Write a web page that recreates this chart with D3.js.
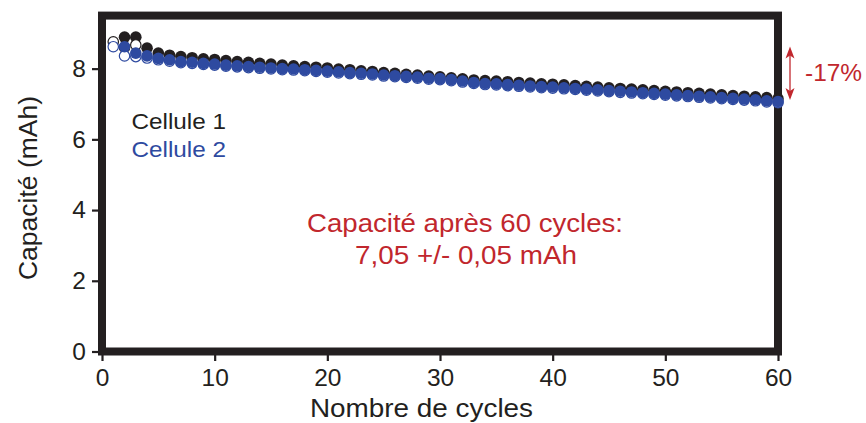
<!DOCTYPE html>
<html><head><meta charset="utf-8">
<script src="https://cdn.jsdelivr.net/npm/d3@7"></script>
<style>body{margin:0;background:#fff}text{font-family:"Liberation Sans",Arial,sans-serif}</style>
</head><body><svg id="c" width="866" height="423"></svg>
<script>
const xTicks = [0,10,20,30,40,50,60];
const yTicks = [0,2,4,6,8];
const cycles = d3.range(2,61);
const cell1 = [8.89,8.89,8.58,8.44,8.38,8.34,8.31,8.28,8.26,8.23,8.20,8.18,8.15,8.13,8.10,8.08,8.06,8.04,8.02,7.99,7.97,7.94,7.92,7.89,7.87,7.84,7.82,7.79,7.77,7.74,7.71,7.68,7.66,7.65,7.63,7.61,7.59,7.57,7.56,7.54,7.52,7.50,7.48,7.46,7.44,7.42,7.40,7.38,7.36,7.34,7.32,7.30,7.28,7.26,7.24,7.22,7.20,7.18,7.15];
const cell2 = [8.62,8.44,8.36,8.29,8.25,8.20,8.18,8.15,8.13,8.10,8.08,8.06,8.04,8.02,8.00,7.99,7.97,7.95,7.93,7.91,7.89,7.87,7.85,7.82,7.80,7.78,7.76,7.73,7.72,7.69,7.65,7.61,7.58,7.57,7.55,7.53,7.51,7.49,7.48,7.46,7.44,7.42,7.40,7.38,7.36,7.34,7.32,7.30,7.28,7.26,7.24,7.22,7.20,7.18,7.16,7.14,7.12,7.09,7.07];
const cell1OpenCycles = [1,2,3];
const cell1Open = [8.76,8.60,8.67];
const cell2OpenCycles = d3.range(1,61);
const cell2Open = [8.62,8.36,8.34,8.30,8.25,8.21,8.17,8.15,8.12,8.10,8.07,8.05,8.03,8.01,7.99,7.97,7.96,7.94,7.92,7.90,7.88,7.86,7.84,7.82,7.79,7.77,7.75,7.73,7.70,7.69,7.66,7.62,7.58,7.55,7.54,7.52,7.50,7.48,7.46,7.45,7.43,7.41,7.39,7.37,7.35,7.33,7.31,7.29,7.27,7.25,7.23,7.21,7.19,7.17,7.15,7.13,7.11,7.09,7.06,7.04];

const BLACK="#231f20", BLUE="#2e4aa0", RED="#c1272d";
const svg = d3.select("#c");
const x = d3.scaleLinear().domain([0,60]).range([102,778]);
const y = d3.scaleLinear().domain([0,9.5]).range([351.5,15.6]);

// axes
const xAxis = d3.axisBottom(x).tickValues(xTicks).tickSize(7).tickPadding(8);
const gx = svg.append("g").attr("transform","translate(0,354)").call(xAxis);
gx.select(".domain").remove();
gx.selectAll("line").attr("stroke",BLACK).attr("stroke-width",2.2);
gx.selectAll("text").attr("font-size",24.5).attr("fill",BLACK).attr("font-family","Liberation Sans, Arial, sans-serif");

const yAxis = d3.axisLeft(y).tickValues(yTicks).tickSize(7).tickPadding(6);
const gy = svg.append("g").attr("transform","translate(99,0)").call(yAxis);
gy.select(".domain").remove();
gy.selectAll("line").attr("stroke",BLACK).attr("stroke-width",2.2);
gy.selectAll("text").attr("font-size",24.5).attr("fill",BLACK).attr("font-family","Liberation Sans, Arial, sans-serif");

// frame
svg.append("rect").attr("x",x(0)).attr("y",y(9.5)).attr("width",x(60)-x(0)).attr("height",y(0)-y(9.5))
  .attr("fill","none").attr("stroke",BLACK).attr("stroke-width",8);

const R = 5.8;
svg.append("g").selectAll("circle").data(cycles.map((c,i)=>[c,cell1[i]])).join("circle")
  .attr("cx",d=>x(d[0])).attr("cy",d=>y(d[1])).attr("r",R).attr("fill",BLACK);
svg.append("g").selectAll("circle").data(cell1OpenCycles.map((c,i)=>[c,cell1Open[i]])).join("circle")
  .attr("cx",d=>x(d[0])).attr("cy",d=>y(d[1])).attr("r",R-0.6).attr("fill","#fff").attr("stroke",BLACK).attr("stroke-width",1.2);
svg.append("g").selectAll("circle").data(cell2OpenCycles.map((c,i)=>[c,cell2Open[i]])).join("circle")
  .attr("cx",d=>x(d[0])).attr("cy",d=>y(d[1])).attr("r",R-0.6).attr("fill","#fff").attr("stroke",BLUE).attr("stroke-width",1.2);
svg.append("g").selectAll("circle").data(cycles.map((c,i)=>[c,cell2[i]])).join("circle")
  .attr("cx",d=>x(d[0])).attr("cy",d=>y(d[1])).attr("r",R).attr("fill",BLUE);

function txt(xp,yp,s,size,fill,len,anchor){
  const t = svg.append("text").attr("x",xp).attr("y",yp).attr("font-size",size).attr("fill",fill).text(s);
  if(anchor) t.attr("text-anchor",anchor);
  if(len) t.attr("textLength",len).attr("lengthAdjust","spacingAndGlyphs");
  return t;
}
// titles
txt(310,417,"Nombre de cycles",26.5,BLACK,223);
svg.append("text").attr("transform","translate(37,188) rotate(-90)").attr("text-anchor","middle").attr("font-size",26.5).attr("fill",BLACK).text("Capacité (mAh)");

// legend
txt(131.5,128.5,"Cellule 1",22,BLACK,94.5);
txt(131.5,157,"Cellule 2",22,BLUE,94.5);

// annotation
txt(307,232,"Capacité après 60 cycles:",26,RED,316);
txt(355,264,"7,05 +/- 0,05 mAh",26,RED,222);

// -17% arrow
const ax = 790, at = 46.5, ab = 100;
svg.append("line").attr("x1",ax).attr("x2",ax).attr("y1",at+6).attr("y2",ab-6).attr("stroke",RED).attr("stroke-width",1.3);
svg.append("path").attr("d",`M${ax},${at} L${ax-4.5},${at+12} L${ax},${at+9} L${ax+4.5},${at+12} Z`).attr("fill",RED);
svg.append("path").attr("d",`M${ax},${ab} L${ax-4.5},${ab-12} L${ax},${ab-9} L${ax+4.5},${ab-12} Z`).attr("fill",RED);
txt(805,80.5,"-17%",23.5,RED,57);
</script></body></html>
